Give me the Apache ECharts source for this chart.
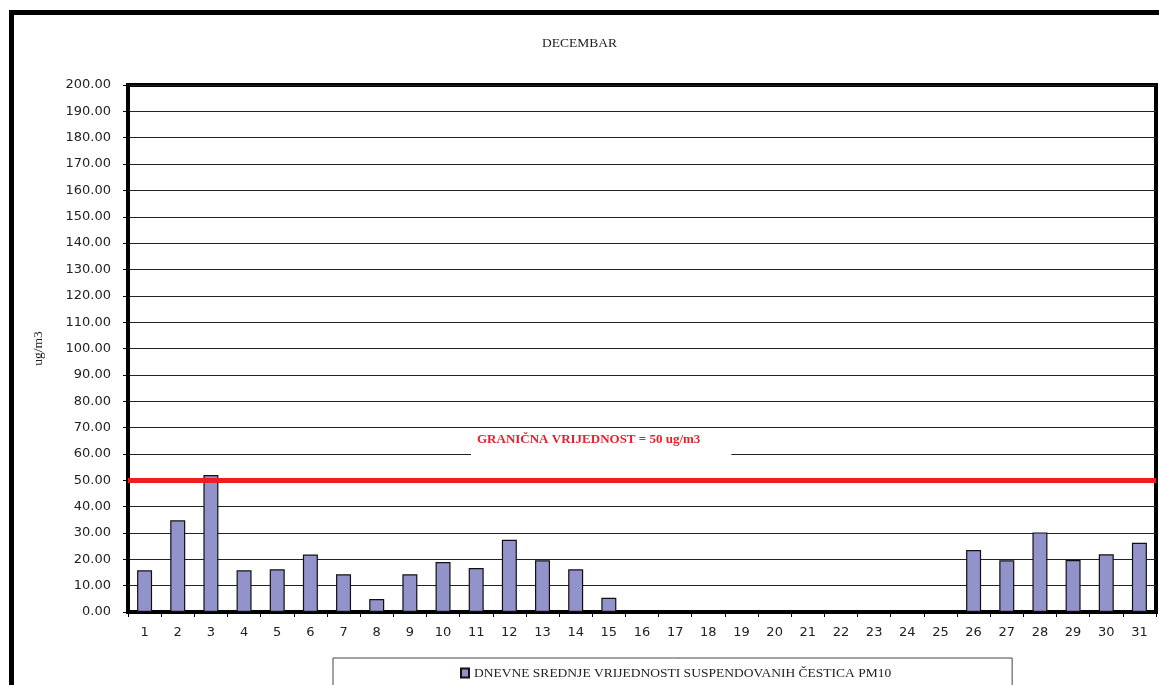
<!DOCTYPE html>
<html>
<head>
<meta charset="utf-8">
<script src="https://cdn.jsdelivr.net/npm/echarts@6/dist/echarts.min.js"></script>
<style>html,body{margin:0;padding:0;background:#fff;}#c{width:1159px;height:685px;}</style>
</head>
<body>
<div id="c"></div>
<script>
const titleText = 'DECEMBAR';
const yAxisName = 'ug/m3';
const seriesName = 'DNEVNE SREDNJE VRIJEDNOSTI SUSPENDOVANIH ČESTICA PM10';
const limitLabel = 'GRANIČNA VRIJEDNOST = 50 ug/m3';
const limitValue = 50;
const days = ['1','2','3','4','5','6','7','8','9','10','11','12','13','14','15','16','17','18','19','20','21','22','23','24','25','26','27','28','29','30','31'];
const pm10 = [15.8, 34.8, 52.0, 15.8, 16.2, 21.8, 14.3, 4.9, 14.3, 19.0, 16.7, 27.4, 19.6, 16.2, 5.4, null, null, null, null, null, null, null, null, null, null, 23.5, 19.6, 30.2, 19.7, 21.9, 26.3];
const yMin = 0, yMax = 200, yStep = 10;

const chart = echarts.init(document.getElementById('c'), null, {renderer: 'canvas'});
const serif = '"Liberation Serif", "DejaVu Serif", serif';
const sans = '"DejaVu Sans", Verdana, sans-serif';

const frame = {
  type: 'rect',
  left: 9, top: 10,
  shape: {width: 1300, height: 800},
  style: {fill: 'none', stroke: '#000', lineWidth: 5},
  z: 100
};

chart.setOption({
  animation: false,
  backgroundColor: '#fff',
  title: {
    text: titleText,
    left: 'center',
    top: 31,
    textStyle: {fontFamily: serif, fontSize: 13.5, fontWeight: 'normal', color: '#222'}
  },
  grid: {
    left: 128, top: 85, right: 3, bottom: 73,
    show: true, borderColor: '#000', borderWidth: 4, backgroundColor: 'transparent'
  },
  legend: {
    left: 333, top: 658,
    itemWidth: 8, itemHeight: 9,
    itemGap: 4,
    padding: [8, 121, 20, 127],
    borderColor: '#444', borderWidth: 1,
    backgroundColor: '#fff',
    textStyle: {fontFamily: serif, fontSize: 13.5, color: '#222'},
    data: [{name: seriesName, icon: 'rect'}]
  },
  xAxis: {
    type: 'category',
    data: days,
    axisLine: {lineStyle: {color: '#000', width: 4}},
    axisTick: {show: true, alignWithLabel: false, length: 5, lineStyle: {color: '#000', width: 1}},
    axisLabel: {fontFamily: sans, fontSize: 13, color: '#222', margin: 14},
    splitLine: {show: false}
  },
  yAxis: {
    type: 'value',
    min: yMin, max: yMax, interval: yStep,
    name: yAxisName,
    nameLocation: 'middle',
    nameGap: 83,
    nameRotate: 90,
    nameTextStyle: {fontFamily: serif, fontSize: 13.5, color: '#222'},
    axisLine: {show: true, lineStyle: {color: '#000', width: 4}},
    axisTick: {show: true, length: 5, lineStyle: {color: '#000', width: 1}},
    axisLabel: {fontFamily: sans, fontSize: 13, color: '#222', margin: 17, formatter: v => v.toFixed(2)},
    splitLine: {show: true, lineStyle: {color: '#222', width: 1}}
  },
  series: [{
    name: seriesName,
    type: 'bar',
    data: pm10,
    barWidth: 15,
    itemStyle: {color: '#9393cb', borderColor: '#111', borderWidth: 1.2},
    markLine: {
      silent: true,
      symbol: 'none',
      lineStyle: {color: '#ee1c25', width: 5, type: 'solid'},
      label: {show: false},
      data: [{yAxis: limitValue}]
    },
    z: 2
  }],
  graphic: [frame]
});

// label for limit line, placed above the line via the value scale
const px = chart.convertToPixel({gridIndex: 0}, [13, 68.5]);
chart.setOption({
  graphic: [
    frame,
    {
      type: 'text',
      x: 471, y: px[1],
      style: {
        text: limitLabel,
        fill: '#e8202a',
        font: 'bold 13px ' + serif,
        textVerticalAlign: 'top',
        backgroundColor: '#fff',
        padding: [2, 31, 12, 6]
      },
      z: 50
    }
  ]
});
</script>
</body>
</html>
